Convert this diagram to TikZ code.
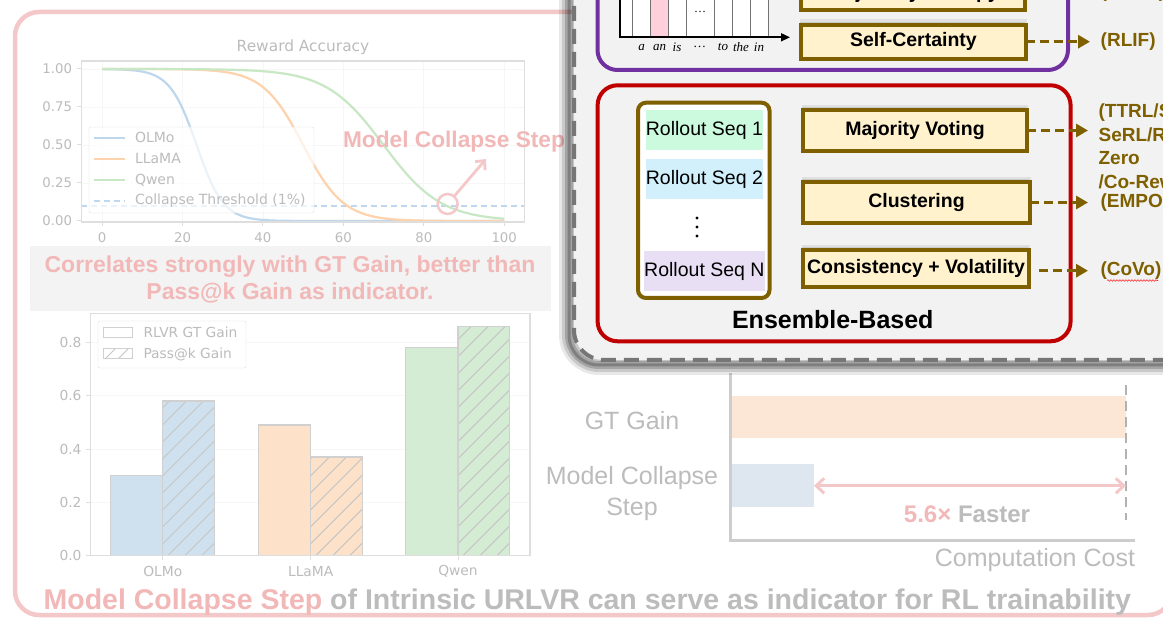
\documentclass[tikz,border=0pt]{standalone}
\usepackage{fontspec}
\setmainfont{Liberation Sans}
\newfontfamily\plotfont{DejaVu Sans}
\newfontfamily\tokenfont{Liberation Serif}
\usetikzlibrary{arrows.meta,shadows,decorations.pathmorphing}

\definecolor{brownline}{RGB}{127,96,0}
\definecolor{boxyellow}{RGB}{255,242,204}
\definecolor{panelgray}{RGB}{242,242,242}
\definecolor{purpleline}{RGB}{112,48,160}
\definecolor{redline}{RGB}{192,0,0}
\definecolor{framepink}{RGB}{244,200,200}
\definecolor{pinktext}{RGB}{242,184,184}
\definecolor{fadedtext}{RGB}{188,188,188}
\definecolor{axisgray}{RGB}{222,222,222}
\definecolor{gridgray}{RGB}{246,246,246}
\definecolor{bandgray}{RGB}{243,243,243}
\definecolor{olmoblue}{RGB}{190,215,236}
\definecolor{llamaorange}{RGB}{253,210,172}
\definecolor{qwengreen}{RGB}{200,231,196}
\definecolor{barblue}{RGB}{207,225,239}
\definecolor{barorange}{RGB}{253,226,201}
\definecolor{bargreen}{RGB}{213,236,212}
\definecolor{baredge}{RGB}{208,208,208}
\definecolor{hatchgray}{RGB}{198,198,198}
\definecolor{seqgreen}{RGB}{204,250,222}
\definecolor{seqblue}{RGB}{210,240,252}
\definecolor{seqpurple}{RGB}{233,223,245}
\definecolor{cellpink}{RGB}{255,208,220}
\definecolor{gtorange}{RGB}{252,231,214}
\definecolor{mcsblue}{RGB}{222,231,240}
\definecolor{dashgray}{RGB}{118,118,118}
\definecolor{costaxis}{RGB}{205,205,205}

\newcommand\pxfont[2]{\fontsize{#1}{#2}\selectfont}

\tikzset{
  every node/.style={inner sep=0pt, outer sep=0pt},
  ticklabel/.style={text=fadedtext, font=\plotfont\pxfont{13.3}{16}},
  legendlabel/.style={text=fadedtext, font=\plotfont\pxfont{14}{17}, anchor=west},
  methodbox/.style={draw=brownline, line width=4pt, fill=boxyellow, text=black,
    font=\bfseries\pxfont{19.5}{23},
    general shadow={fill=black, opacity=0.07, shadow yshift=5pt, shadow scale=1.01},
    general shadow={fill=black, opacity=0.09, shadow yshift=3pt, shadow xshift=-1pt}},
  seqbox/.style={minimum width=117pt, minimum height=40pt, font=\pxfont{19.5}{23}, text=black},
  resultarrow/.style={draw=brownline, line width=3.5pt, dash pattern=on 9pt off 5pt,
    -{Triangle[length=12pt,width=13pt]}},
  resulttext/.style={text=brownline, font=\bfseries\pxfont{19}{23.7}},
  fadedlabel/.style={text=fadedtext, font=\pxfont{25}{31}},
}

\begin{document}
\begin{tikzpicture}[x=1pt,y=-1pt]
\useasboundingbox (0,0) rectangle (1163,620);
\clip (0,0) rectangle (1163,620);
\fill[white] (0,0) rectangle (1163,620);

% frame of the indicator panel
\draw[framepink, line width=4.5pt, fill=white, rounded corners=24pt] (15,12) rectangle (1172,615);

% ---------- reward accuracy curves ----------
\node[ticklabel, font=\plotfont\pxfont{15.4}{18}] (rtitle) at (303,47) {Reward Accuracy};
\foreach \t in {0,20,...,100}
  \draw[gridgray, line width=0.8pt] ({102.1+4.021*\t},61) -- ({102.1+4.021*\t},222);
\foreach \v in {0,0.25,0.5,0.75,1}
  \draw[gridgray, line width=0.8pt] (81.4,{221-152*\v}) -- (524.5,{221-152*\v});
\draw[olmoblue, line width=1.8pt, dash pattern=on 6pt off 4pt] (81.4,205.8) -- (524.5,205.8);
\foreach \k/\c/\col in {0.3/23.5/olmoblue, 0.2/50/llamaorange, 0.14/70/qwengreen}
  \draw[\col, line width=2.2pt] plot[domain=0:100, samples=150]
    ({102.1+4.021*\x},{221-152/(1+exp(max(-9,min(9,\k*(\x-\c)))))});
\draw[axisgray, line width=1.2pt] (81.4,61) rectangle (524.5,222);
\foreach \t [count=\i] in {0,20,...,100} {
  \draw[axisgray, line width=1pt] ({102.1+4.021*\t},222) -- ({102.1+4.021*\t},226.5);
  \node[ticklabel] (xtick\i) at ({102.1+4.021*\t},237.5) {\t};
}
\foreach \v/\lab [count=\i] in {0/0.00,0.25/0.25,0.5/0.50,0.75/0.75,1/1.00} {
  \draw[axisgray, line width=1pt] (81.4,{221-152*\v}) -- (76.9,{221-152*\v});
  \node[ticklabel, anchor=east] (ytick\i) at (72,{221-152*\v}) {\lab};
}
% legend
\node[draw=axisgray, fill=white, fill opacity=0.7, rounded corners=2pt,
      minimum width=225pt, minimum height=86pt] (legtop) at (201.5,170) {};
\draw[olmoblue, line width=2.2pt] (94,137.7) -- (125,137.7);
\draw[llamaorange, line width=2.2pt] (94,158.7) -- (125,158.7);
\draw[qwengreen, line width=2.2pt] (94,180) -- (125,180);
\draw[olmoblue, line width=1.8pt, dash pattern=on 6pt off 4pt] (94,200.7) -- (125,200.7);
\node[legendlabel] (lgolmo) at (135,137.7) {OLMo};
\node[legendlabel] (lgllama) at (135,158.7) {LLaMA};
\node[legendlabel] (lgqwen) at (135,180) {Qwen};
\node[legendlabel] (lgthr) at (135,200.7) {Collapse Threshold (1\%)};
% collapse pointer
\node[draw=framepink, circle, line width=2.5pt, minimum size=20pt] (ring) at (447.6,204) {};
\coordinate (ringtip) at (486,159);
\draw[framepink, line width=2.8pt, -{Straight Barb[length=7pt,width=13pt]}] (ring) -- (ringtip);
\node[text=pinktext, font=\bfseries\pxfont{22.7}{27}] (mcsnote) at (454,142) {Model Collapse Step};

% ---------- correlation note ----------
\fill[bandgray] (29.6,246) rectangle (551,311);
\node[text=pinktext, align=center, font=\bfseries\pxfont{23}{27}] (corrnote) at (290,279)
  {Correlates strongly with GT Gain, better than\\Pass@k Gain as indicator.};

% ---------- gain bar chart ----------
\foreach \v in {0.2,0.4,0.6,0.8}
  \draw[gridgray, line width=0.8pt] (90.6,{555.7-266.7*\v}) -- (530,{555.7-266.7*\v});
\foreach \c/\a/\b/\col in {162.8/0.30/0.58/barblue, 310.7/0.49/0.37/barorange, 458/0.78/0.86/bargreen} {
  \filldraw[fill=\col, draw=baredge, line width=1.2pt] ({\c-52.5},555.7) rectangle (\c,{555.7-266.7*\a});
  \fill[\col] (\c,555.7) rectangle ({\c+51.7},{555.7-266.7*\b});
  \begin{scope}
    \clip (\c,555.7) rectangle ({\c+51.7},{555.7-266.7*\b});
    \foreach \j in {0,...,18}
      \draw[hatchgray, line width=1pt] ({\c-250+\j*17},555.7) -- ++(260,-260);
  \end{scope}
  \draw[baredge, line width=1.2pt] (\c,555.7) rectangle ({\c+51.7},{555.7-266.7*\b});
}
\draw[axisgray, line width=1.2pt] (90.6,313.3) rectangle (530,555.7);
\foreach \c/\lab [count=\i] in {162.8/OLMo, 310.7/LLaMA, 458/Qwen} {
  \draw[axisgray, line width=1pt] (\c,555.7) -- (\c,560.2);
  \node[ticklabel, font=\plotfont\pxfont{13.8}{16}] (model\i) at (\c,571.7) {\lab};
}
\foreach \v/\lab [count=\i] in {0/0.0,0.2/0.2,0.4/0.4,0.6/0.6,0.8/0.8} {
  \draw[axisgray, line width=1pt] (90.6,{555.7-266.7*\v}) -- (86.1,{555.7-266.7*\v});
  \node[ticklabel, font=\plotfont\pxfont{13.8}{16}, anchor=east] (gtick\i) at (81.5,{555.7-266.7*\v}) {\lab};
}
\node[draw=axisgray, fill=white, rounded corners=2pt, minimum width=148pt, minimum height=47pt] (legbar) at (172,344.5) {};
\draw[baredge, line width=1pt, fill=white] (103.6,327.5) rectangle (132.4,338);
\begin{scope}
  \clip (103.6,348.5) rectangle (132.4,359);
  \foreach \j in {0,...,3}
    \draw[hatchgray, line width=1pt] ({92+\j*13},359) -- ++(14,-14);
\end{scope}
\draw[baredge, line width=1pt] (103.6,348.5) rectangle (132.4,359);
\node[legendlabel, font=\plotfont\pxfont{13.8}{16}] (lggt) at (143.5,332.7) {RLVR GT Gain};
\node[legendlabel, font=\plotfont\pxfont{13.8}{16}] (lgpass) at (143.5,354) {Pass@k Gain};

% ---------- caption ----------
\node[anchor=base west, font=\bfseries\pxfont{28.5}{32}] (caption) at (43.6,609)
  {\textcolor{pinktext}{Model Collapse Step} \textcolor{fadedtext}{of Intrinsic URLVR can serve as indicator for RL trainability}};

% ---------- cost comparison ----------
\node[fill=gtorange, minimum width=394pt, minimum height=42.3pt] (gtbar) at (929,417.2) {};
\node[fill=mcsblue, minimum width=82pt, minimum height=43pt] (mcsbar) at (773,485.8) {};
\draw[costaxis, line width=3pt] (730,373) -- (730,540) -- (1135,540);
\draw[black!30, line width=1.5pt, dash pattern=on 10pt off 6pt] (1126,385) -- (1126,520);
\coordinate (costend) at (1126,485.8);
\draw[framepink, line width=3pt, {Straight Barb[length=8pt,width=15pt]}-{Straight Barb[length=8pt,width=15pt]}]
  (mcsbar.east) -- (costend);
\node[fadedlabel] (gtlab) at (632,421) {GT Gain};
\node[fadedlabel, align=center] (mcslab) at (632,493.5) {Model Collapse\\Step};
\node[fadedlabel, anchor=east] (costlab) at (1135,560) {Computation Cost};
\node[text=fadedtext, font=\bfseries\pxfont{24}{28}] (faster) at (967,514) {\textcolor{pinktext}{5.6×} Faster};

% ---------- reward family panel ----------
\foreach \w/\o in {20pt/0.09, 14pt/0.13, 8pt/0.18, 3pt/0.22}
  \draw[black, opacity=\o, line width=\w, rounded corners=30pt, shift={(-5,5)}]
    (574,-40) -- (574,360) -- (1200,360);
\fill[panelgray, rounded corners=30pt] (574,-40) -- (574,360) -- (1200,360) -- (1200,-40) -- cycle;
\draw[dashgray, line width=4pt, dash pattern=on 15pt off 8pt, rounded corners=30pt]
  (574,-40) -- (574,360) -- (1200,360);

% certainty-based group
\draw[purpleline, line width=4pt, rounded corners=20pt] (597.5,-40) -- (597.5,70) -- (1068,70) -- (1068,-40);
\fill[white] (620,-20) rectangle (768.7,37.3);
\fill[cellpink] (650.7,-20) rectangle (668.3,37.3);
\foreach \xx in {632.3,650.7,668.3,686,714,732.3,750,768.7}
  \draw[black!55, line width=0.8pt] (\xx,-20) -- (\xx,37.3);
\draw[black, line width=1.6pt, -{Triangle[length=9pt,width=8pt]}] (620,-20) -- (620,37.3) -- (790,37.3);
\node[font=\tokenfont\pxfont{12}{14}] (celldots) at (700,12) {\dots};
\foreach \xx/\w [count=\i] in {641.5/a, 659.5/an, 677/is, 700/\dots, 723/to, 741/the, 759/in}
  \node[font=\tokenfont\itshape\pxfont{13}{15}] (tok\i) at (\xx,47.3) {\w};

\node[methodbox, minimum width=224pt, minimum height=34pt] (trajent) at (912.7,-7) {Trajectory Entropy};
\node[methodbox, minimum width=225pt, minimum height=34pt] (selfcert) at (913.4,41.7) {Self-Certainty};
\node[resulttext, anchor=west] (rent) at (1100.7,-7) {(RENT)};
\node[resulttext, anchor=west] (rlif) at (1100.7,41.7) {(RLIF)};
\draw[resultarrow, shorten >=10.7pt] (trajent.east) -- (rent.west);
\draw[resultarrow, shorten >=10.7pt] (selfcert.east) -- (rlif.west);

% ensemble-based group
\draw[redline, line width=4pt, rounded corners=20pt] (597.6,85.3) rectangle (1070.6,341.3);
\node[draw=brownline, line width=4pt, fill=white, rounded corners=8pt,
      minimum width=131.5pt, minimum height=195.3pt] (rollouts) at (703.75,200.35) {};
\node[seqbox, fill=seqgreen] (seq1) at (704.4,130) {Rollout Seq 1};
\node[seqbox, fill=seqblue] (seq2) at (704.4,179) {Rollout Seq 2};
\node[seqbox, fill=seqpurple] (seqn) at (704.4,271) {Rollout Seq N};
\foreach \yy in {218,227,236}
  \fill[black] (697,\yy) circle[radius=1.6pt];
\node[font=\bfseries\pxfont{25}{30}] (ensemble) at (832.8,320) {Ensemble-Based};

\node[methodbox, minimum width=224pt, minimum height=41pt] (majority) at (915,130.5) {Majority Voting};
\node[methodbox, minimum width=227pt, minimum height=41pt] (cluster) at (916.5,202.5) {Clustering};
\node[methodbox, minimum width=226pt, minimum height=37pt] (covo) at (916,268.5) {Consistency + Volatility};

\node[resulttext, anchor=north west, align=left] (ttrl) at (1098.6,103.7)
  {(TTRL/SRT/\\SeRL/R-\\Zero\\/Co-Reward)};
\node[resulttext, anchor=west] (empo) at (1100.5,203) {(EMPO)};
\node[resulttext, anchor=west] (covoref) at (1100.5,270.7) {(CoVo)};
\coordinate (mvend) at (1088,130.5);
\draw[resultarrow] (majority.east) -- (mvend);
\draw[resultarrow, shorten >=12.5pt] (cluster.east) -- (cluster.east -| empo.west);
\draw[resultarrow, shorten <=10pt, shorten >=12.5pt] (covo.east |- covoref.west) -- (covoref.west);
\draw[red!85, line width=0.6pt, decorate, decoration={snake, amplitude=0.8pt, segment length=3pt}]
  (1107,280.5) -- (1158,280.5);
\end{tikzpicture}
\end{document}
